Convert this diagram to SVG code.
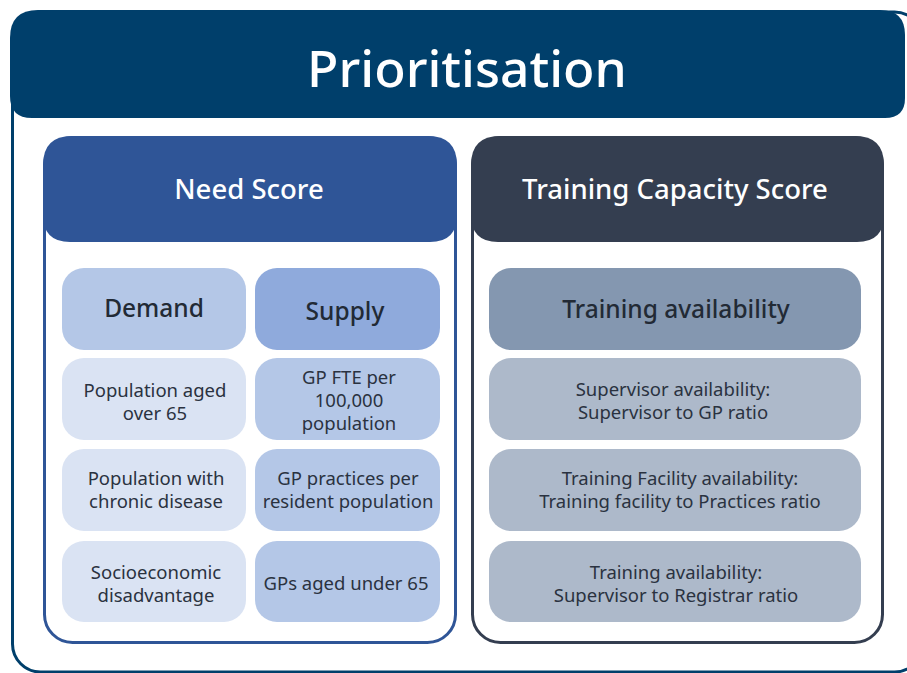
<svg xmlns="http://www.w3.org/2000/svg" width="907" height="673" viewBox="0 0 907 673">
  <style>
    .t { font-family: "Noto Sans", Lato, "Liberation Sans", sans-serif; text-anchor: middle; }
    .head { fill: #ffffff; font-size: 27.5px; font-weight: 500; }
    .sub { fill: #222a35; font-size: 24.5px; font-weight: 500; }
    .item { fill: #2a3240; font-size: 18.5px; }
    .demand { fill: #b4c7e7; }
    .supply { fill: #8faadc; }
    .dItem { fill: #dae3f3; }
    .sItem { fill: #b4c7e7; }
    .tHead { fill: #8497b0; }
    .tItem { fill: #adb9ca; }
  </style>
  <rect width="907" height="673" fill="#ffffff"/>

  <!-- outer frame -->
  <g id="frame">
    <rect x="12.5" y="12" width="910" height="660" rx="28" fill="#ffffff" stroke="#003f6b" stroke-width="3"/>
    <path d="M10 38 Q10 10 38 10 H880 Q905 10 905 35 V98 Q905 118 885 118 H32 Q10 118 10 96 Z" fill="#003f6b"/>
    <text class="t" x="467" y="87" fill="#ffffff" font-size="51.5" font-weight="500">Prioritisation</text>
  </g>

  <!-- Need Score panel -->
  <g id="need-score">
    <rect x="44.5" y="137.5" width="411" height="505" rx="28" fill="#ffffff" stroke="#2f5597" stroke-width="3"/>
    <path d="M43 165 Q43 136 72 136 H428 Q457 136 457 165 V215 Q457 242 430 242 H70 Q43 242 43 215 Z" fill="#2f5597"/>
    <text class="t head" x="249" y="199">Need Score</text>
  </g>

  <g id="demand">
    <rect class="demand" x="62" y="268" width="184" height="82" rx="22"/>
    <text class="t sub" x="154" y="317">Demand</text>
  </g>
  <g id="supply">
    <rect class="supply" x="255" y="268" width="185" height="82" rx="22"/>
    <text class="t sub" x="345" y="320">Supply</text>
  </g>

  <g id="pop-over-65">
    <rect class="dItem" x="62" y="358" width="184" height="82" rx="22"/>
    <text class="t item" x="155" y="397">Population aged</text>
    <text class="t item" x="155" y="420">over 65</text>
  </g>
  <g id="pop-chronic">
    <rect class="dItem" x="62" y="449" width="184" height="82" rx="22"/>
    <text class="t item" x="156" y="485">Population with</text>
    <text class="t item" x="156" y="508">chronic disease</text>
  </g>
  <g id="socioeconomic">
    <rect class="dItem" x="62" y="541" width="184" height="81" rx="22"/>
    <text class="t item" x="156" y="579">Socioeconomic</text>
    <text class="t item" x="156" y="602">disadvantage</text>
  </g>

  <g id="gp-fte">
    <rect class="sItem" x="255" y="358" width="185" height="82" rx="22"/>
    <text class="t item" x="349" y="384">GP FTE per</text>
    <text class="t item" x="349" y="407">100,000</text>
    <text class="t item" x="349" y="430">population</text>
  </g>
  <g id="gp-practices">
    <rect class="sItem" x="255" y="449" width="185" height="82" rx="22"/>
    <text class="t item" x="348" y="485">GP practices per</text>
    <text class="t item" x="348" y="508">resident population</text>
  </g>
  <g id="gps-under-65">
    <rect class="sItem" x="255" y="541" width="185" height="81" rx="22"/>
    <text class="t item" x="346" y="590">GPs aged under 65</text>
  </g>

  <!-- Training Capacity Score panel -->
  <g id="training-capacity">
    <rect x="472.5" y="137.5" width="410" height="505" rx="28" fill="#ffffff" stroke="#343e50" stroke-width="3"/>
    <path d="M471 165 Q471 136 500 136 H855 Q884 136 884 165 V215 Q884 242 857 242 H498 Q471 242 471 215 Z" fill="#343e50"/>
    <text class="t head" x="675" y="199">Training Capacity Score</text>
  </g>

  <g id="training-availability">
    <rect class="tHead" x="489" y="268" width="372" height="82" rx="22"/>
    <text class="t sub" x="676" y="318">Training availability</text>
  </g>
  <g id="supervisor-availability">
    <rect class="tItem" x="489" y="358" width="372" height="82" rx="22"/>
    <text class="t item" x="673" y="396">Supervisor availability:</text>
    <text class="t item" x="673" y="419">Supervisor to GP ratio</text>
  </g>
  <g id="facility-availability">
    <rect class="tItem" x="489" y="449" width="372" height="82" rx="22"/>
    <text class="t item" x="680" y="485">Training Facility availability:</text>
    <text class="t item" x="680" y="508">Training facility to Practices ratio</text>
  </g>
  <g id="registrar-ratio">
    <rect class="tItem" x="489" y="541" width="372" height="81" rx="22"/>
    <text class="t item" x="676" y="579">Training availability:</text>
    <text class="t item" x="676" y="602">Supervisor to Registrar ratio</text>
  </g>
</svg>
